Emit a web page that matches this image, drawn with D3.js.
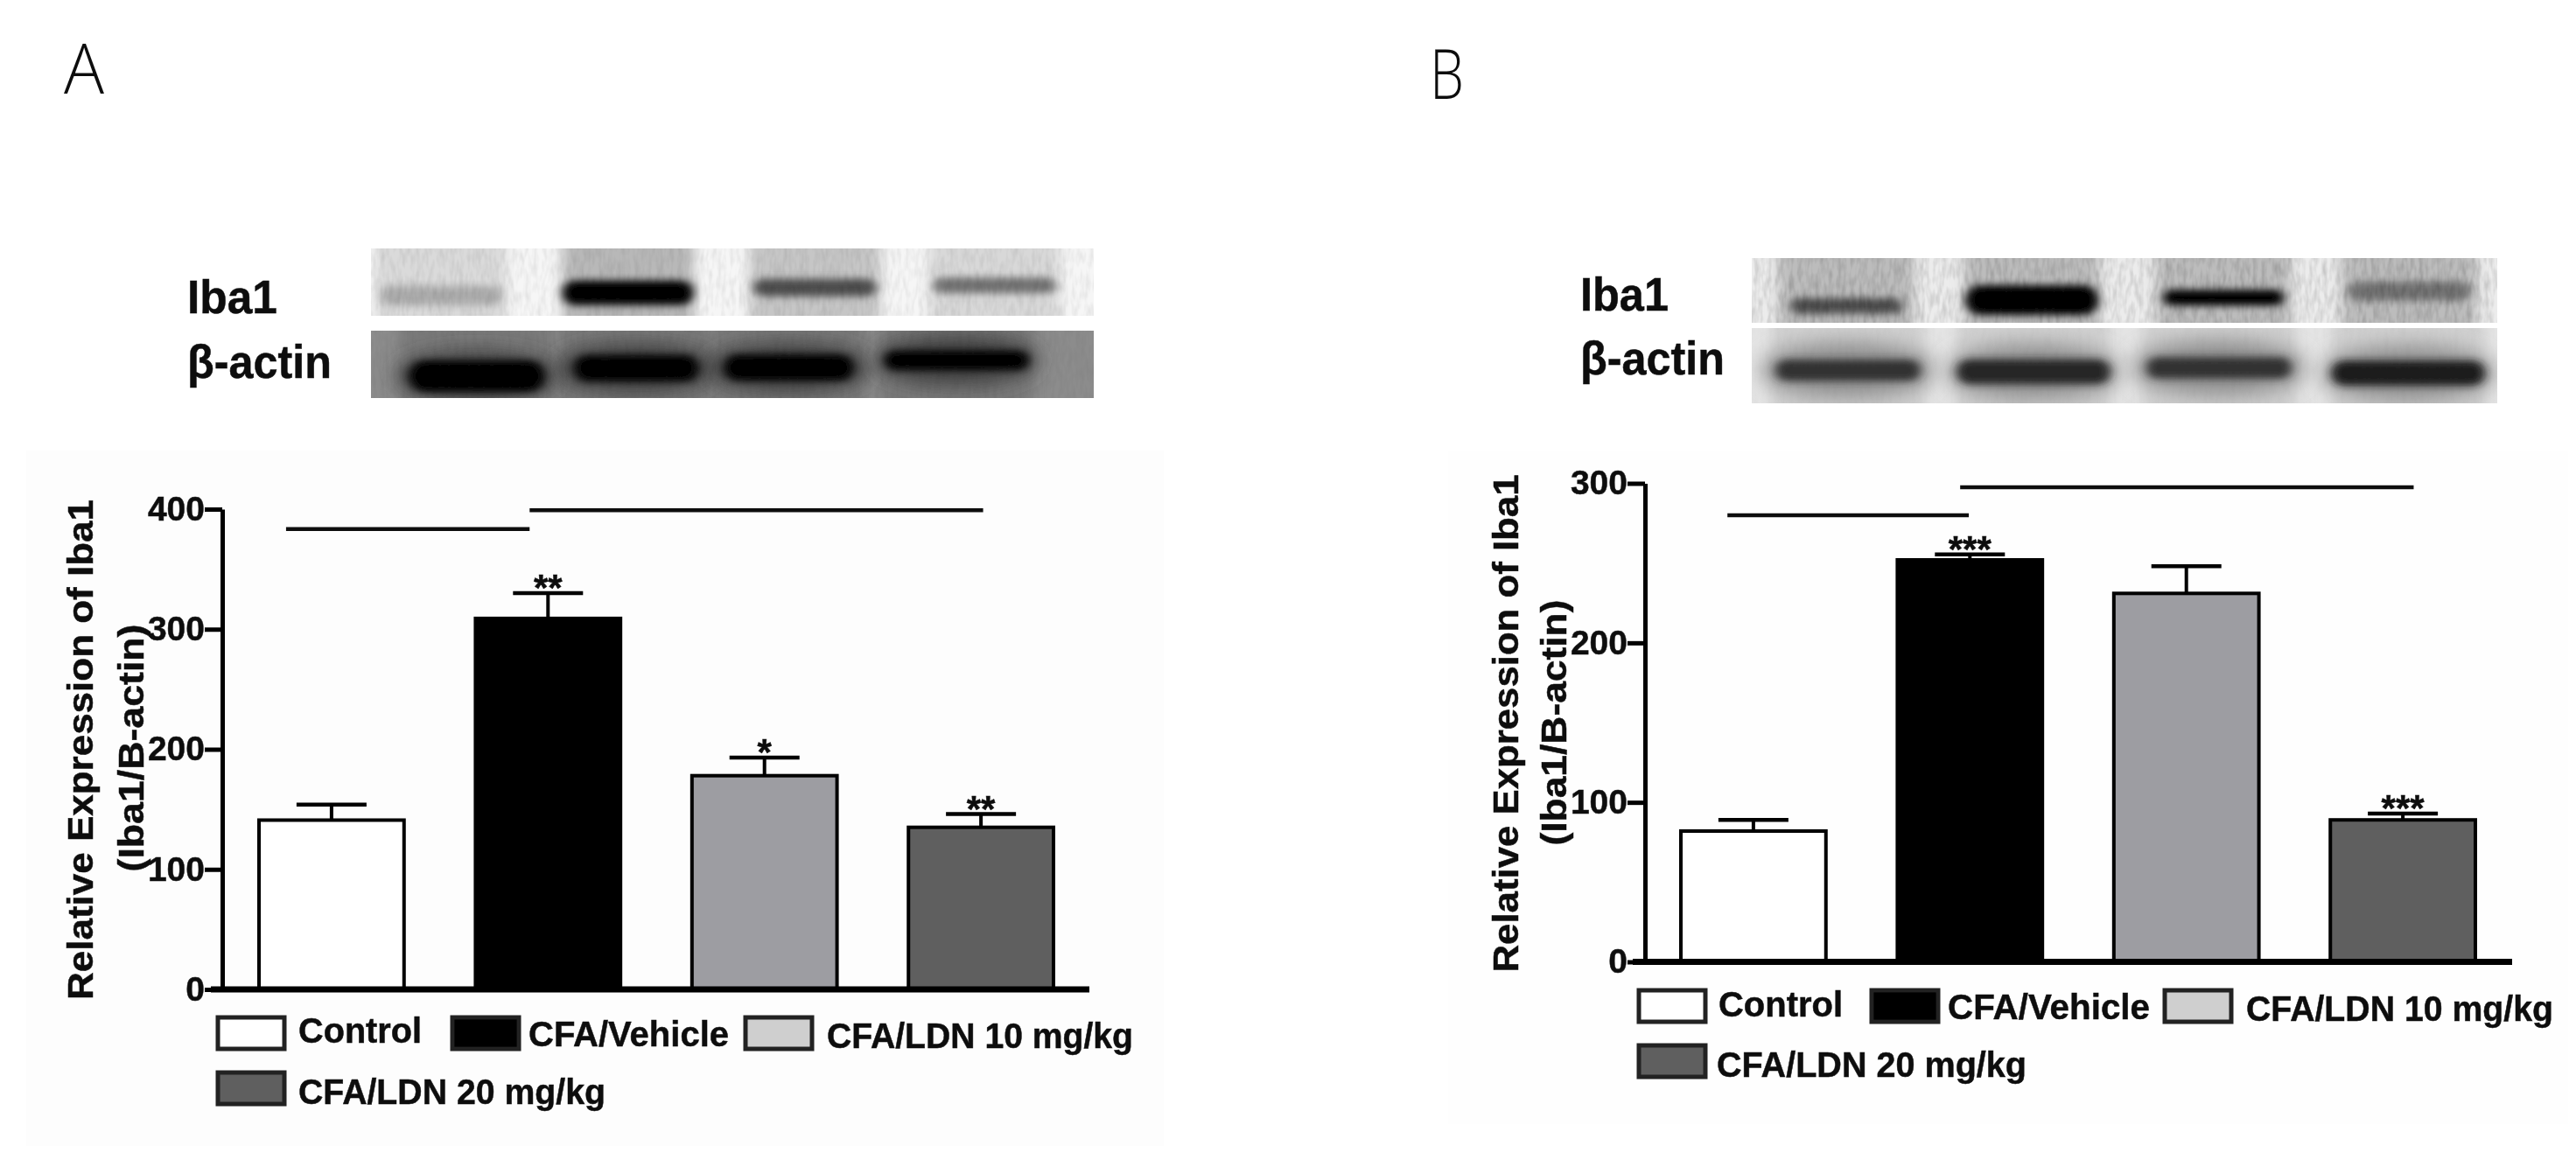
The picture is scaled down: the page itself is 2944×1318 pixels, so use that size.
<!DOCTYPE html>
<html>
<head>
<meta charset="utf-8">
<script src="https://cdn.jsdelivr.net/npm/d3@7"></script>
<style>
  body { margin: 0; background: #fff; }
  text { font-family: "Liberation Sans", Arial, sans-serif; font-weight: bold; fill: #111; stroke: #111; stroke-width: 0.5px; }
</style>
</head>
<body>
<div id="chart"></div>
<script>
const groups = ["Control", "CFA/Vehicle", "CFA/LDN 10 mg/kg", "CFA/LDN 20 mg/kg"];
const barColors = ["#ffffff", "#000000", "#9d9da2", "#5e5e5e"];
const legendColors = ["#ffffff", "#000000", "#cfcfcf", "#5e5e5e"];

// panel A values
const valuesA = [141, 309, 178, 135];
const errorTopA = [154, 330, 193, 146];
const starsA = ["", "**", "*", "**"];
const ticksA = [0, 100, 200, 300, 400];
// from group, to group, height (group index units, y units)
const sigFromA = [-0.21, 0.915];
const sigToA = [0.915, 3.01];
const sigLevelA = [383.5, 399];

// panel B values
const valuesB = [82, 252, 231, 89];
const errorTopB = [89, 255.5, 248, 93];
const starsB = ["", "***", "", "***"];
const ticksB = [0, 100, 200, 300];
const sigFromB = [-0.12, 0.955];
const sigToB = [0.995, 3.05];
const sigLevelB = [280, 297.5];

// western blot bands: lane, how far the band ran (0-1), density (0-1)
const iba1LaneA = [0, 1, 2, 2.96];
const iba1RunA = [0.7, 0.66, 0.58, 0.55];
const iba1DensityA = [0.12, 1, 0.6, 0.42];
const actinLaneA = [0, 0.95, 1.86, 2.86];
const actinRunA = [0.675, 0.56, 0.55, 0.44];
const actinDensityA = [1, 1, 1, 1];
const iba1LaneB = [0, 1, 2.03, 3.03];
const iba1RunB = [0.74, 0.65, 0.61, 0.51];
const iba1DensityB = [0.6, 1, 1, 0.42];
const actinLaneB = [0, 1, 2, 3.02];
const actinRunB = [0.56, 0.58, 0.53, 0.6];
const actinDensityB = [0.75, 0.8, 0.75, 0.85];

const svg = d3.select("#chart").append("svg")
  .attr("width", 2944).attr("height", 1318)
  .style("display", "block");

const defs = svg.append("defs");
// the whole figure is a slightly soft raster
defs.append("filter").attr("id", "soft")
  .attr("x", 0).attr("y", 0).attr("width", 2944).attr("height", 1318)
  .attr("filterUnits", "userSpaceOnUse")
  .append("feGaussianBlur").attr("stdDeviation", 0.7);
[["blur4", "6 4"], ["blur8", "7 6"], ["blur14", "12 12"]].forEach(function (b) {
  defs.append("filter").attr("id", b[0])
    .attr("x", "-50%").attr("y", "-100%").attr("width", "200%").attr("height", "300%")
    .append("feGaussianBlur").attr("stdDeviation", b[1]);
});
const grain = defs.append("filter").attr("id", "grain")
  .attr("x", 0).attr("y", 0).attr("width", "100%").attr("height", "100%");
grain.append("feTurbulence").attr("type", "fractalNoise")
  .attr("baseFrequency", "0.2 0.06").attr("numOctaves", 2).attr("seed", 4);
grain.append("feColorMatrix").attr("type", "matrix")
  .attr("values", "0 0 0 0 0  0 0 0 0 0  0 0 0 0 0  1.4 0 0 0 -0.5");

const root = svg.append("g").attr("filter", "url(#soft)");

function drawBlot(box, id, opt) {
  defs.append("clipPath").attr("id", id).append("rect")
    .attr("x", box.x).attr("y", box.y).attr("width", box.w).attr("height", box.h);
  const g = root.append("g").attr("clip-path", `url(#${id})`);
  const lane = d3.scaleLinear().domain([0, 3]).range(opt.laneRange);
  const run = d3.scaleLinear().domain([0, 1]).range([box.y, box.y + box.h]);
  const dark = d3.scaleLinear().domain([0, 1]).range(["#c4c4c4", "#000000"]);

  g.append("rect").attr("x", box.x).attr("y", box.y)
    .attr("width", box.w).attr("height", box.h).attr("fill", opt.bg);

  // smear of each lane behind the band
  g.selectAll(".smear").data(opt.lanes).enter().append("rect")
    .attr("x", (d) => lane(d) - opt.smearW / 2)
    .attr("y", box.y - 30)
    .attr("width", opt.smearW)
    .attr("height", box.h + 60)
    .attr("fill", (d, i) => (opt.smears ? opt.smears[i] : opt.smear))
    .attr("filter", "url(#blur8)");

  if (opt.shade) {
    g.selectAll(".shade").data(opt.lanes).enter().append("ellipse")
      .attr("cx", (d) => lane(d))
      .attr("cy", (d, i) => run(opt.run[i]))
      .attr("rx", opt.bandW[0] * 0.6)
      .attr("ry", box.h * 0.36)
      .attr("fill", opt.shade)
      .attr("filter", "url(#blur14)");
  }

  g.selectAll(".band").data(opt.lanes).enter().append("rect")
    .attr("x", (d, i) => lane(d) - opt.bandW[i] / 2)
    .attr("y", (d, i) => run(opt.run[i]) - opt.bandH[i] / 2)
    .attr("width", (d, i) => opt.bandW[i])
    .attr("height", (d, i) => opt.bandH[i])
    .attr("rx", (d, i) => opt.bandH[i] / 2)
    .attr("fill", (d, i) => dark(opt.density[i]))
    .attr("filter", "url(#blur4)");

  g.append("rect").attr("x", box.x).attr("y", box.y)
    .attr("width", box.w).attr("height", box.h)
    .attr("fill", "#000").attr("opacity", opt.grain)
    .attr("filter", "url(#grain)");
}

function stretchedText(parent, str, x, y, size, length, anchor) {
  return parent.append("text")
    .attr("x", x).attr("y", y)
    .attr("font-size", size)
    .attr("text-anchor", anchor || "start")
    .attr("textLength", length)
    .attr("lengthAdjust", "spacingAndGlyphs")
    .text(str);
}

function drawPanel(p) {
  const g = root.append("g");
  const x = d3.scaleBand().domain(groups).range(p.barRange).paddingInner(0.33);
  const y = d3.scaleLinear().domain([0, p.ticks[p.ticks.length - 1]]).range(p.yRange);
  const xi = d3.scaleLinear().domain([0, 3])
    .range([x(groups[0]) + x.bandwidth() / 2, x(groups[3]) + x.bandwidth() / 2]);

  // bars
  g.selectAll(".bar").data(p.values).enter().append("rect")
    .attr("x", (d, i) => x(groups[i]))
    .attr("y", (d) => y(d))
    .attr("width", x.bandwidth())
    .attr("height", (d) => y(0) - y(d))
    .attr("fill", (d, i) => barColors[i])
    .attr("stroke", "#000")
    .attr("stroke-width", 4);

  // error bars
  g.selectAll(".stem").data(p.errorTop).enter().append("line")
    .attr("x1", (d, i) => xi(i)).attr("x2", (d, i) => xi(i))
    .attr("y1", (d, i) => y(p.values[i])).attr("y2", (d) => y(d))
    .attr("stroke", "#000").attr("stroke-width", 4);
  g.selectAll(".cap").data(p.errorTop).enter().append("line")
    .attr("x1", (d, i) => xi(i) - 40).attr("x2", (d, i) => xi(i) + 40)
    .attr("y1", (d) => y(d)).attr("y2", (d) => y(d))
    .attr("stroke", "#000").attr("stroke-width", 4.5);

  // stars
  g.selectAll(".star").data(p.stars).enter().append("text")
    .attr("x", (d, i) => xi(i))
    .attr("y", (d, i) => y(p.errorTop[i]) + 8)
    .attr("text-anchor", "middle")
    .attr("font-size", 42)
    .text((d) => d);

  // significance lines
  g.selectAll(".sig").data(p.sigLevel).enter().append("line")
    .attr("x1", (d, i) => xi(p.sigFrom[i])).attr("x2", (d, i) => xi(p.sigTo[i]))
    .attr("y1", (d) => y(d)).attr("y2", (d) => y(d))
    .attr("stroke", "#111").attr("stroke-width", 4.5);

  // axes
  const axis = g.append("g").attr("transform", `translate(${p.axisX},0)`)
    .call(d3.axisLeft(y).tickValues(p.ticks).tickSize(20).tickSizeOuter(0).tickPadding(0));
  axis.select(".domain").attr("stroke", "#000").attr("stroke-width", 5);
  axis.selectAll(".tick line").attr("stroke", "#000").attr("stroke-width", 5);
  axis.selectAll(".tick text").attr("font-size", 39)
    .style("fill", "#111");
  axis.attr("font-family", null);

  g.append("line")
    .attr("x1", p.baseline[0]).attr("x2", p.baseline[1])
    .attr("y1", y(0)).attr("y2", y(0))
    .attr("stroke", "#000").attr("stroke-width", 7);

  // y axis title, two lines
  p.title.forEach(function (t) {
    const tg = g.append("g").attr("transform", `translate(${t.x},${t.y}) rotate(-90)`);
    stretchedText(tg, t.text, 0, 0, 41, t.len, "middle");
  });

  // legend
  p.legend.forEach(function (l, i) {
    g.append("rect")
      .attr("x", l.x).attr("y", l.y).attr("width", 76).attr("height", 36)
      .attr("fill", legendColors[i])
      .attr("stroke", "#222").attr("stroke-width", 5);
    stretchedText(g, groups[i], l.tx, l.ty, 40, l.tlen);
  });
}

// faint backing of the pasted chart images
root.append("rect").attr("x", 30).attr("y", 515).attr("width", 1300).attr("height", 795).attr("fill", "#fdfdfd");
root.append("rect").attr("x", 1655).attr("y", 515).attr("width", 1280).attr("height", 770).attr("fill", "#fefefe");

drawBlot({ x: 424, y: 284, w: 826, h: 77 }, "iba1a", {
  laneRange: [504, 1145], lanes: iba1LaneA, run: iba1RunA, density: iba1DensityA,
  bg: "#f6f6f6", smear: "#cfcfcf", smears: ["#dadada", "#b8b8b8", "#c6c6c6", "#d8d8d8"], smearW: 150, grain: 0.1,
  bandW: [140, 150, 140, 140], bandH: [22, 28, 20, 18]
});
drawBlot({ x: 424, y: 378, w: 826, h: 77 }, "actina", {
  laneRange: [545, 1120], lanes: actinLaneA, run: actinRunA, density: actinDensityA,
  bg: "#8c8c8c", smear: "#7a7a7a", smearW: 175, grain: 0.06, shade: "#3c3c3c",
  bandW: [155, 142, 148, 165], bandH: [36, 30, 30, 22]
});
drawBlot({ x: 2002, y: 295, w: 852, h: 74 }, "iba1b", {
  laneRange: [2110, 2747], lanes: iba1LaneB, run: iba1RunB, density: iba1DensityB,
  bg: "#ececec", smear: "#bcbcbc", smearW: 155, grain: 0.2,
  bandW: [128, 152, 138, 140], bandH: [18, 34, 18, 22]
});
drawBlot({ x: 2002, y: 375, w: 852, h: 86 }, "actinb", {
  laneRange: [2112, 2748], lanes: actinLaneB, run: actinRunB, density: actinDensityB,
  bg: "#e4e4e4", smear: "#d0d0d0", smearW: 175, grain: 0.02, shade: "#8c8c8c",
  bandW: [165, 175, 165, 175], bandH: [24, 28, 24, 28]
});

// blot labels and panel letters
stretchedText(root, "Iba1", 214, 358, 53, 103);
stretchedText(root, "β-actin", 214, 432, 53, 165);
stretchedText(root, "Iba1", 1806, 355, 53, 101);
stretchedText(root, "β-actin", 1806, 428, 53, 165);
[["A", 73, 107, 46], ["B", 1634, 113, 39]].forEach(function (d) {
  stretchedText(root, d[0], d[1], d[2], 80, d[3])
    .style("font-family", "'Open Sans', 'Liberation Sans'")
    .style("font-weight", 300)
    .style("stroke-width", 0);
});

drawPanel({
  values: valuesA, errorTop: errorTopA, stars: starsA, ticks: ticksA,
  sigFrom: sigFromA, sigTo: sigToA, sigLevel: sigLevelA,
  barRange: [296, 1204], yRange: [1131, 582], axisX: 254, baseline: [241, 1245],
  title: [
    { text: "Relative Expression of Iba1", x: 106, y: 857, len: 572 },
    { text: "(Iba1/B-actin)", x: 164, y: 855, len: 283 }
  ],
  legend: [
    { x: 249, y: 1163, tx: 341, ty: 1192, tlen: 141 },
    { x: 517, y: 1163, tx: 604, ty: 1196, tlen: 229 },
    { x: 852, y: 1163, tx: 945, ty: 1198, tlen: 350 },
    { x: 249, y: 1226, tx: 341, ty: 1262, tlen: 351 }
  ]
});

drawPanel({
  values: valuesB, errorTop: errorTopB, stars: starsB, ticks: ticksB,
  sigFrom: sigFromB, sigTo: sigToB, sigLevel: sigLevelB,
  barRange: [1921, 2829], yRange: [1099.5, 552.5], axisX: 1880, baseline: [1866, 2871],
  title: [
    { text: "Relative Expression of Iba1", x: 1735, y: 827, len: 569 },
    { text: "(Iba1/B-actin)", x: 1790, y: 826, len: 281 }
  ],
  legend: [
    { x: 1873, y: 1132, tx: 1964, ty: 1162, tlen: 142 },
    { x: 2139, y: 1132, tx: 2226, ty: 1165, tlen: 231 },
    { x: 2474, y: 1132, tx: 2567, ty: 1167, tlen: 351 },
    { x: 1873, y: 1195, tx: 1962, ty: 1231, tlen: 354 }
  ]
});
</script>
</body>
</html>
